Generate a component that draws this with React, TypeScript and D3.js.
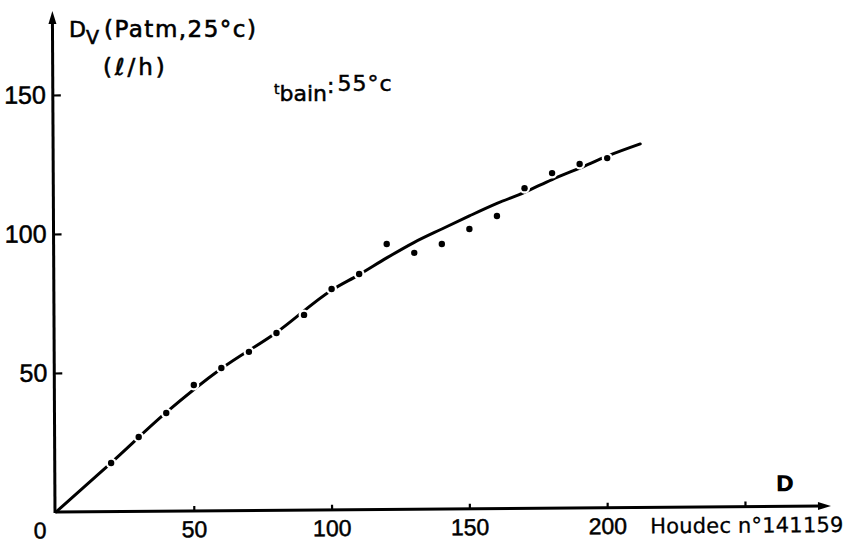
import React, { useEffect, useRef } from "react";
import * as d3 from "d3";

// measured points: D setting vs flow
const dSettings = [20, 30, 40, 50, 60, 70, 80, 90, 100, 110, 120, 130, 140, 150, 160, 170, 180, 190, 200];
const flowValues = [17.6, 27.0, 35.6, 45.7, 51.8, 57.6, 64.4, 70.9, 80.2, 85.6, 96.4, 93.2, 96.4, 101.8, 106.5, 116.5, 121.9, 125.2, 127.3];

// hand-drawn fitted curve
const curveD = [0, 20, 40, 60, 80, 100, 110, 120, 130, 140, 150, 160, 170, 180, 190, 200, 212];
const curveFlow = [0, 17.7, 35.8, 51.6, 64.6, 79.8, 85.4, 91.4, 97.0, 101.8, 106.5, 111.0, 115.0, 119.6, 123.7, 128.0, 132.4];

const xTicks = [50, 100, 150, 200, 250];
const yTicks = [50, 100, 150];

const W = 849;
const H = 548;
const tickFont = "'Liberation Sans', Arial, sans-serif";
const labelFont = "'DejaVu Sans', sans-serif";

function FlowChart() {
  const ref = useRef<SVGSVGElement | null>(null);

  useEffect(() => {
    const svg = d3.select(ref.current);
    svg.selectAll("*").remove();

    const x = d3.scaleLinear().domain([0, 250]).range([56, 745]);
    const y = d3.scaleLinear().domain([0, 150]).range([512, 95]);

    svg.append("rect").attr("width", W).attr("height", H).attr("fill", "#fff");

    // x axis (slightly tilted like the drawing)
    const gx = svg.append("g")
      .attr("transform", `rotate(-0.45, ${x(0)}, ${y(0)}) translate(0,${y(0)})`);
    gx.call(
      d3.axisBottom(x)
        .tickValues(xTicks)
        .tickFormat(d => (+d === 250 ? "" : String(d)))
        .tickSizeInner(-5)
        .tickSizeOuter(0)
        .tickPadding(10)
    );
    gx.select(".domain").remove();
    gx.selectAll(".tick line").attr("stroke", "#000").attr("stroke-width", 2.2);
    gx.selectAll(".tick text")
      .attr("fill", "#000")
      .attr("font-family", tickFont)
      .attr("font-size", 23)
      .attr("stroke", "#000")
      .attr("stroke-width", 0.5);
    gx.append("line")
      .attr("x1", x(0)).attr("x2", 822)
      .attr("y1", 0).attr("y2", 0)
      .attr("stroke", "#000").attr("stroke-width", 3);
    gx.append("path")
      .attr("d", "M831,0 L818,-4 L818,4 Z")
      .attr("fill", "#000");
    gx.append("text")
      .attr("x", x(0) - 16).attr("y", 10).attr("dy", "0.71em")
      .attr("text-anchor", "middle")
      .attr("fill", "#000")
      .attr("font-family", tickFont).attr("font-size", 23)
      .attr("stroke", "#000").attr("stroke-width", 0.5)
      .text("0");
    gx.append("text")
      .attr("x", 650).attr("y", 26)
      .attr("text-anchor", "start")
      .attr("fill", "#000")
      .attr("font-family", labelFont).attr("font-size", 21)
      .attr("letter-spacing", 0.2)
      .attr("stroke", "#000").attr("stroke-width", 0.3)
      .text("Houdec n°141159");
    gx.append("text")
      .attr("x", 785).attr("y", -15)
      .attr("text-anchor", "middle")
      .attr("fill", "#000")
      .attr("font-family", labelFont).attr("font-size", 22)
      .attr("font-weight", "bold")
      .text("D");

    // y axis
    const gy = svg.append("g")
      .attr("transform", `rotate(-0.3, ${x(0)}, ${y(0)}) translate(${x(0) - 1},0)`);
    gy.call(
      d3.axisLeft(y)
        .tickValues(yTicks)
        .tickSizeInner(-8)
        .tickSizeOuter(0)
        .tickPadding(7)
    );
    gy.select(".domain").remove();
    gy.selectAll(".tick line").attr("stroke", "#000").attr("stroke-width", 2.2);
    gy.selectAll(".tick text")
      .attr("fill", "#000")
      .attr("font-family", tickFont)
      .attr("font-size", 25)
      .attr("stroke", "#000")
      .attr("stroke-width", 0.5);
    gy.append("line")
      .attr("x1", 0).attr("x2", 0)
      .attr("y1", y(0) + 1).attr("y2", 22)
      .attr("stroke", "#000").attr("stroke-width", 3);
    gy.append("path")
      .attr("d", "M0,11 L-4,24 L4,24 Z")
      .attr("fill", "#000");

    // axis title
    const title = svg.append("text")
      .attr("x", 69).attr("y", 37)
      .attr("fill", "#000")
      .attr("font-family", labelFont).attr("font-size", 23)
      .attr("stroke", "#000").attr("stroke-width", 0.6);
    title.append("tspan").attr("font-size", 22).text("D");
    title.append("tspan").attr("dy", 7).attr("font-size", 19).text("V");
    title.append("tspan").attr("dy", -7).attr("dx", 5)
      .attr("letter-spacing", 1.5).text("(Patm,25°c)");
    svg.append("text")
      .attr("x", 103).attr("y", 75)
      .attr("fill", "#000")
      .attr("font-family", labelFont).attr("font-size", 23)
      .attr("letter-spacing", 3)
      .attr("stroke", "#000").attr("stroke-width", 0.6)
      .text("(ℓ/h)");

    // bath temperature note
    const note = svg.append("text")
      .attr("x", 274).attr("y", 99)
      .attr("fill", "#000")
      .attr("font-family", labelFont).attr("font-size", 22)
      .attr("stroke", "#000").attr("stroke-width", 0.5);
    note.append("tspan").attr("font-size", 14).attr("dy", -5).text("t");
    note.append("tspan").attr("dy", 7).text("bain");
    note.append("tspan").attr("dy", -8).text(":");
    note.append("tspan").attr("dy", -2).attr("dx", 3).attr("letter-spacing", 1).text("55°c");

    // curve
    const line = d3.line<number>()
      .x((_, i) => x(curveD[i]))
      .y(d => y(d))
      .curve(d3.curveMonotoneX);
    svg.append("path")
      .datum(curveFlow)
      .attr("d", line)
      .attr("fill", "none")
      .attr("stroke", "#000")
      .attr("stroke-width", 3)
      .attr("stroke-linecap", "round");

    // points: white halo breaks the line, then the black dot
    const pts = svg.append("g");
    pts.selectAll("circle.halo")
      .data(flowValues)
      .join("circle")
      .attr("class", "halo")
      .attr("cx", (_, i) => x(dSettings[i]))
      .attr("cy", d => y(d))
      .attr("r", 5.5)
      .attr("fill", "#fff");
    pts.selectAll("circle.dot")
      .data(flowValues)
      .join("circle")
      .attr("class", "dot")
      .attr("cx", (_, i) => x(dSettings[i]))
      .attr("cy", d => y(d))
      .attr("r", 3.2)
      .attr("fill", "#000");
  }, []);

  return (
    <svg
      ref={ref}
      width={W}
      height={H}
      style={{ position: "absolute", left: 0, top: 0, display: "block" }}
    />
  );
}

export default function App() {
  return <FlowChart />;
}
